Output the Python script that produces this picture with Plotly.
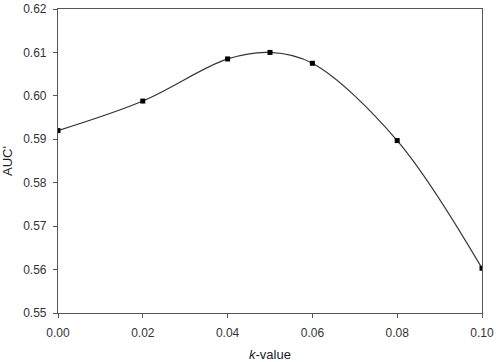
import plotly.graph_objects as go

k_values = [0.00, 0.02, 0.04, 0.05, 0.06, 0.08, 0.10]
auc_values = [0.5920, 0.5988, 0.6085, 0.6100, 0.6075, 0.5897, 0.5603]
x_ticks = [0.00, 0.02, 0.04, 0.06, 0.08, 0.10]
y_ticks = [0.55, 0.56, 0.57, 0.58, 0.59, 0.60, 0.61, 0.62]

fig = go.Figure()
fig.add_trace(go.Scatter(
    x=k_values, y=auc_values, mode="lines+markers",
    line=dict(color="#333333", width=1.2, shape="spline", smoothing=1.0),
    marker=dict(symbol="square", size=5, color="black"),
    showlegend=False,
))

axis_common = dict(
    showline=True, linecolor="#555555", linewidth=1.2, mirror=True,
    ticks="outside", ticklen=4, tickcolor="#555555", tickwidth=1,
    showgrid=False, zeroline=False, automargin=False,
    tickfont=dict(family="Liberation Sans, Arial", size=12, color="#333333"),
)

fig.update_xaxes(
    range=[0, 0.10], tickvals=x_ticks,
    ticktext=[f"{v:.2f}" for v in x_ticks],
    ticklabelstandoff=4,
    title=dict(text="<i>k</i>-value", font=dict(family="Liberation Sans, Arial", size=13, color="#222222"), standoff=14),
    **axis_common,
)
fig.update_yaxes(
    range=[0.55, 0.62], tickvals=y_ticks,
    ticktext=[f"{v:.2f}" for v in y_ticks],
    ticklabelstandoff=4,
    title=dict(text="AUC'", font=dict(family="Liberation Sans, Arial", size=13, color="#222222"), standoff=8),
    **axis_common,
)

fig.update_layout(
    width=496, height=362,
    margin=dict(l=58, r=14, t=9, b=49),
    paper_bgcolor="white", plot_bgcolor="white",
)
fig.write_html("out.html")
